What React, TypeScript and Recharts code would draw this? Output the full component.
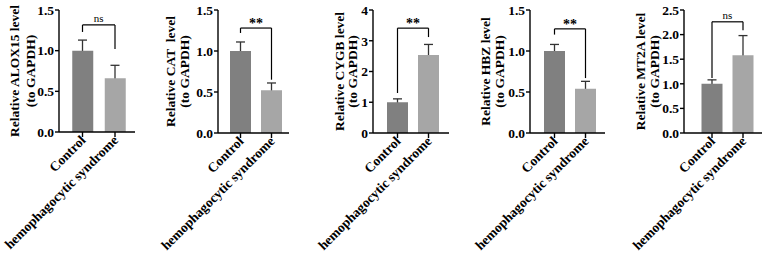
import React from 'react';
import { ComposedChart, Bar, Scatter, ErrorBar, XAxis, YAxis, ReferenceLine, Cell, Label } from 'recharts';

// ---------- data ----------
const categories = ['Control', 'hemophagocytic syndrome'];
const genes = ['ALOX15', 'CAT', 'CYGB', 'HBZ', 'MT2A'];
const yLabelLine1 = ['Relative ALOX15 level', 'Relative CAT  level', 'Relative CYGB level', 'Relative HBZ level', 'Relative MT2A level'];
const yLabelLine2 = '(to GAPDH)';
const controlMeans = [1.0, 1.0, 1.0, 1.0, 1.0];
const controlSD = [0.13, 0.11, 0.11, 0.08, 0.08];
const hsMeans = [0.66, 0.52, 2.54, 0.54, 1.58];
const hsSD = [0.16, 0.09, 0.34, 0.09, 0.4];
const significance = ['ns', '**', '**', '**', 'ns'];
const yMax = [1.5, 1.5, 4, 1.5, 2.5];
const yTicks = [
  [0, 0.5, 1, 1.5],
  [0, 0.5, 1, 1.5],
  [0, 1, 2, 3, 4],
  [0, 0.5, 1, 1.5],
  [0, 0.5, 1, 1.5, 2, 2.5],
];
const yTickDecimals = [1, 1, 0, 1, 1];
const bracketTop = [1.316, 1.28, 3.41, 1.27, 2.26];
const bracketLeftEnd = [1.23, 1.22, 1.3, 1.2, 1.12];
const bracketRightEnd = [1.02, 0.65, 3.12, 0.67, 2.09];

// ---------- layout (pixels) ----------
const layout = [
  { axisX: 59, c1: 82.5, c2: 115, axisEnd: 135, bottom: 132, l1: 40, l2: 24 },
  { axisX: 218, c1: 240.5, c2: 271.5, axisEnd: 289, bottom: 133, l1: 43, l2: 29 },
  { axisX: 373, c1: 397.5, c2: 428.5, axisEnd: 449, bottom: 133, l1: 29, l2: 16 },
  { axisX: 530, c1: 554.5, c2: 585.5, axisEnd: 605, bottom: 133, l1: 40, l2: 26 },
  { axisX: 684, c1: 712, c2: 743, axisEnd: 762, bottom: 133, l1: 39, l2: 25 },
];

const FONT = '"Liberation Serif", "Times New Roman", serif';
const barColors = ['#808080', '#a6a6a6'];
const H = 262;
const TOP = 10;

const XTick = (props: any) => {
  const { x, y, payload } = props;
  const px = x + 4;
  const py = y + 2;
  return (
    <text x={px} y={py} transform={`rotate(-45 ${px} ${py})`} textAnchor="end" fontFamily={FONT} fontWeight={700} fontSize={13.5} fill="#000">
      {payload.value}
    </text>
  );
};

const makeYLabel = (i: number) => (props: any) => {
  const vb = props.viewBox || {};
  const ax = vb.x + vb.width;
  const cy = vb.y + vb.height / 2;
  const x1 = ax - layout[i].l1;
  const x2 = ax - layout[i].l2;
  return (
    <g>
      <text x={x1} y={cy} transform={`rotate(-90 ${x1} ${cy})`} textAnchor="middle" fontFamily={FONT} fontWeight={700} fontSize={13.5} fill="#000" style={{ whiteSpace: 'pre' }}>
        {yLabelLine1[i]}
      </text>
      <text x={x2} y={cy} transform={`rotate(-90 ${x2} ${cy})`} textAnchor="middle" fontFamily={FONT} fontWeight={700} fontSize={13.5} fill="#000">
        {yLabelLine2}
      </text>
    </g>
  );
};

const panelGeometry = (i: number) => {
  const L = layout[i];
  const left = L.axisX - 80;
  const yAxisWidth = L.axisX - left;
  const band = L.c2 - L.c1;
  const padL = L.c1 - L.axisX - band / 2;
  const padR = L.axisEnd - L.c2 - band / 2;
  const width = L.axisEnd - left + 4;
  const data = [
    { name: categories[0], value: controlMeans[i], sd: controlSD[i] },
    { name: categories[1], value: hsMeans[i], sd: hsSD[i] },
  ];
  return { L, left, yAxisWidth, padL, padR, width, data };
};

const Panel = ({ i }: { i: number }) => {
  const { L, left, yAxisWidth, padL, padR, width, data } = panelGeometry(i);
  const sig = significance[i];
  const isNs = sig === 'ns';
  const margin = { top: TOP, right: 4, left: 0, bottom: 0 };
  return (
    <>
      {/* bottom layer: error bars (lower half is hidden behind the bars) */}
      <div style={{ position: 'absolute', left, top: 0 }}>
        <ComposedChart width={width} height={H} data={data} margin={margin}>
          <XAxis
            dataKey="name"
            type="category"
            interval={0}
            height={H - L.bottom}
            padding={{ left: padL, right: padR }}
            tick={false}
            tickLine={false}
            axisLine={false}
          />
          <YAxis type="number" domain={[0, yMax[i]]} ticks={yTicks[i]} allowDataOverflow width={yAxisWidth} tick={false} tickLine={false} axisLine={false} />
          <Bar dataKey="value" barSize={21} fill="transparent" isAnimationActive={false} />
          <Scatter dataKey="value" shape={() => <g />} isAnimationActive={false}>
            <ErrorBar dataKey="sd" direction="y" width={4.5} stroke="#333" strokeWidth={1.3} isAnimationActive={false} />
          </Scatter>
        </ComposedChart>
      </div>
      {/* top layer: bars, axes, brackets */}
      <div style={{ position: 'absolute', left, top: 0 }}>
        <ComposedChart width={width} height={H} data={data} margin={margin}>
          <XAxis
            dataKey="name"
            type="category"
            interval={0}
            height={H - L.bottom}
            padding={{ left: padL, right: padR }}
            tick={<XTick />}
            tickSize={5}
            axisLine={{ stroke: '#000', strokeWidth: 1.4 }}
            tickLine={{ stroke: '#000', strokeWidth: 1.4 }}
          />
          <YAxis
            type="number"
            domain={[0, yMax[i]]}
            ticks={yTicks[i]}
            allowDataOverflow
            width={yAxisWidth}
            tickFormatter={(v: number) => v.toFixed(yTickDecimals[i])}
            tick={{ fontFamily: FONT, fontWeight: 700, fontSize: 13.5, fill: '#000' }}
            tickSize={4}
            tickMargin={1}
            axisLine={{ stroke: '#000', strokeWidth: 1.4 }}
            tickLine={{ stroke: '#000', strokeWidth: 1.4 }}
          >
            <Label content={makeYLabel(i)} />
          </YAxis>
          <Bar dataKey="value" barSize={21} isAnimationActive={false}>
            {data.map((d, k) => (
              <Cell key={k} fill={barColors[k]} />
            ))}
          </Bar>
          <ReferenceLine
            segment={[{ x: categories[0], y: bracketTop[i] }, { x: categories[1], y: bracketTop[i] }]}
            stroke="#000"
            strokeWidth={1.2}
            label={{
              value: sig,
              position: 'top',
              offset: isNs ? 3 : 0,
              fontFamily: FONT,
              fontWeight: isNs ? 400 : 700,
              fontSize: isNs ? 11 : 14,
              fill: '#000',
            }}
          />
          <ReferenceLine
            segment={[{ x: categories[0], y: bracketTop[i] }, { x: categories[0], y: bracketLeftEnd[i] }]}
            stroke="#000"
            strokeWidth={1.2}
          />
          <ReferenceLine
            segment={[{ x: categories[1], y: bracketTop[i] }, { x: categories[1], y: bracketRightEnd[i] }]}
            stroke="#000"
            strokeWidth={1.2}
          />
        </ComposedChart>
      </div>
    </>
  );
};

export default function App() {
  return (
    <div style={{ position: 'absolute', left: 0, top: 0, width: 767, height: H, background: '#fff', overflow: 'hidden' }}>
      {genes.map((g, i) => (
        <Panel key={g} i={i} />
      ))}
    </div>
  );
}
